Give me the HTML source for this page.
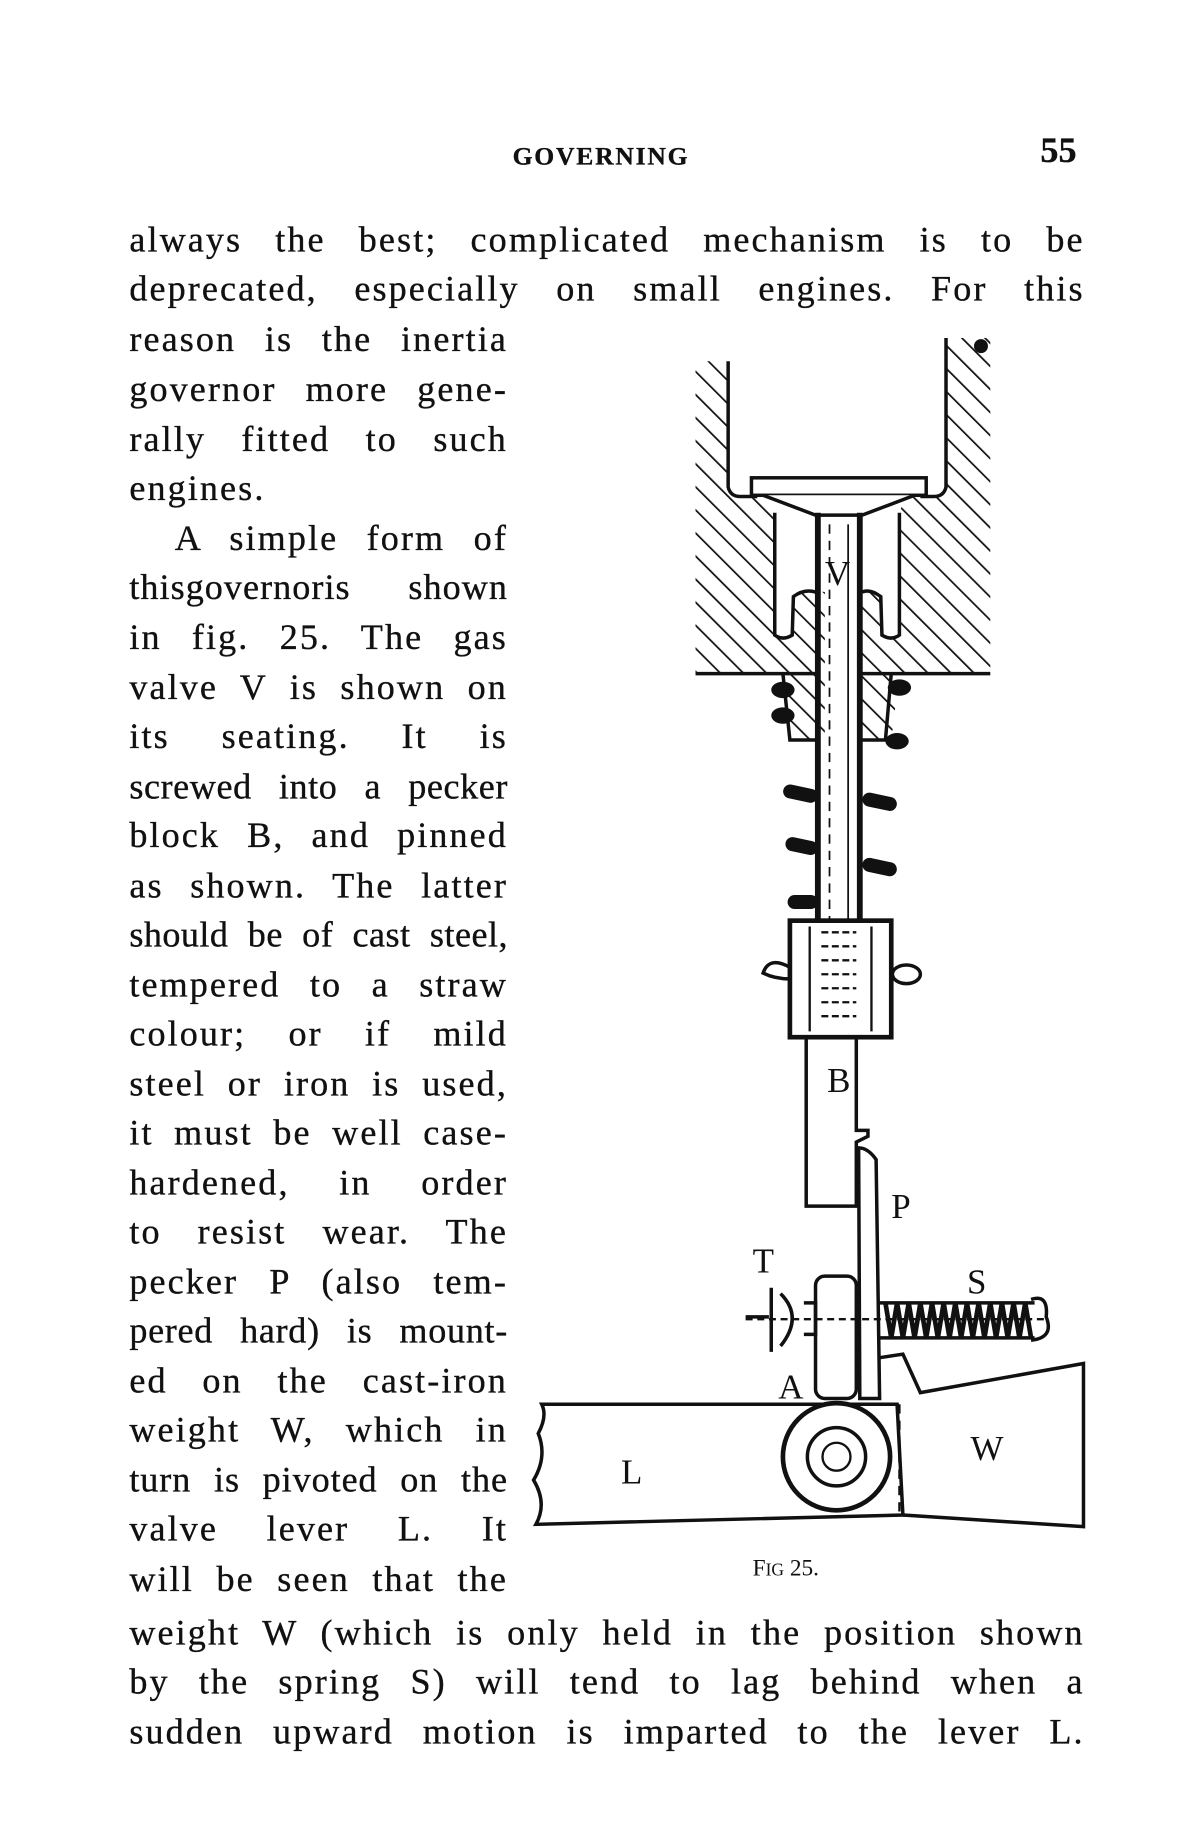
<!DOCTYPE html>
<html><head><meta charset="utf-8"><style>
html,body{margin:0;padding:0;background:#fff;}
#wrap{position:relative;width:1024px;height:1572px;transform:scale(1.16504,1.16539);transform-origin:0 0;overflow:hidden;}
.l{position:absolute;font-family:"Liberation Serif",serif;font-size:31px;line-height:34px;color:#111;text-align:justify;text-align-last:justify;white-space:nowrap;letter-spacing:1.8px;-webkit-text-stroke:0.3px #111;}
.c{left:111px;width:325px;}
.f{left:111px;width:820px;}
svg{position:absolute;left:0;top:0;}
</style></head><body><div id="wrap">
<div class="l" style="left:440px;top:117px;font-size:22px;font-weight:bold;letter-spacing:1.5px;text-align-last:auto">GOVERNING</div>
<div class="l" style="left:893px;top:112px;font-size:31px;font-weight:bold;text-align-last:auto;letter-spacing:0">55</div>

<div class="l f" style="top:189px">always the best; complicated mechanism is to be</div>
<div class="l f" style="top:231px">deprecated, especially on small engines. For this</div>
<div class="l c" style="top:274px">reason is the inertia</div>
<div class="l c" style="top:317px">governor more gene-</div>
<div class="l c" style="top:360px">rally fitted to such</div>
<div class="l c" style="top:402px;text-align-last:auto">engines.</div>
<div class="l c" style="top:445px;left:150px;width:286px">A simple form of</div>
<div class="l c" style="top:487px;letter-spacing:0.9px">thisgovernoris shown</div>
<div class="l c" style="top:530px">in fig. 25. The gas</div>
<div class="l c" style="top:573px">valve V is shown on</div>
<div class="l c" style="top:615px">its seating. It is</div>
<div class="l c" style="top:658px;letter-spacing:0.5px">screwed into a pecker</div>
<div class="l c" style="top:700px">block B, and pinned</div>
<div class="l c" style="top:743px">as shown. The latter</div>
<div class="l c" style="top:785px;letter-spacing:0.4px">should be of cast steel,</div>
<div class="l c" style="top:828px">tempered to a straw</div>
<div class="l c" style="top:870px">colour; or if mild</div>
<div class="l c" style="top:913px">steel or iron is used,</div>
<div class="l c" style="top:955px">it must be well case-</div>
<div class="l c" style="top:998px">hardened, in order</div>
<div class="l c" style="top:1040px">to resist wear. The</div>
<div class="l c" style="top:1083px">pecker P (also tem-</div>
<div class="l c" style="top:1125px;letter-spacing:0.6px">pered hard) is mount-</div>
<div class="l c" style="top:1168px">ed on the cast-iron</div>
<div class="l c" style="top:1210px">weight W, which in</div>
<div class="l c" style="top:1253px;letter-spacing:0.8px">turn is pivoted on the</div>
<div class="l c" style="top:1295px">valve lever L. It</div>
<div class="l c" style="top:1338px">will be seen that the</div>
<div class="l f" style="top:1384px">weight W (which is only held in the position shown</div>
<div class="l f" style="top:1426px">by the spring S) will tend to lag behind when a</div>
<div class="l f" style="top:1469px">sudden upward motion is imparted to the lever L.</div>

<svg width="1024" height="1572" viewBox="0 0 1024 1572">
<defs>
<pattern id="h" patternUnits="userSpaceOnUse" width="14" height="14" patternTransform="rotate(-45)">
<line x1="0" y1="0" x2="0" y2="14" stroke="#111" stroke-width="3"/>
</pattern>
</defs>
<g stroke="#111" stroke-width="3" fill="url(#h)">
<path d="M597,310 L625,310 L625,418 Q627,426 635,426 L660,426 L665,440 L665,545 Q672,550 680,545 L681,512 Q690,505 708,508 L708,578 L708,635 L678,635 L672,578 L597,578 Z" stroke="none"/>
<path d="M850,290 L812,290 L812,418 Q810,426 802,426 L777,426 L772,440 L772,545 Q765,550 757,545 L756,512 Q747,505 738,508 L738,578 L738,635 L765,635 L772,578 L850,578 Z" stroke="none"/>
</g>
<g stroke="#111" stroke-width="3" fill="none">
<path d="M625,310 L625,418 Q627,426 635,426 L650,426"/>
<path d="M812,290 L812,418 Q810,426 802,426 L790,426"/>
<path d="M665,440 L665,545 Q672,550 680,545 L681,512 Q690,505 700,508"/>
<path d="M772,440 L772,545 Q765,550 757,545 L756,512 Q747,505 740,508"/>
<path d="M597,578 L700,578 M740,578 L850,578"/>
<path d="M672,578 L678,635 L700,635 M765,578 L760,635 L740,635"/>
<rect x="645" y="410" width="150" height="15" fill="#fff"/>
<path d="M655,425 L700,442 L740,442 L785,425" fill="#fff"/>
<line x1="702" y1="440" x2="702" y2="790" stroke-width="5"/>
<line x1="738" y1="440" x2="738" y2="790" stroke-width="5"/>
<line x1="728" y1="450" x2="728" y2="790" stroke-width="1.5"/>
<line x1="712" y1="450" x2="712" y2="790" stroke-width="1.5" stroke-dasharray="8 6"/>
<rect x="678" y="790" width="87" height="100" fill="#fff" stroke-width="4"/>
<g stroke-width="2"><line x1="695" y1="795" x2="695" y2="885"/><line x1="748" y1="795" x2="748" y2="885"/>
<path d="M705,800 h30 M705,812 h30 M705,824 h30 M705,836 h30 M705,848 h30 M705,860 h30 M705,872 h30" stroke-dasharray="6 3"/></g>
<path d="M678,830 Q660,820 655,835 Q665,840 678,840"/>
<ellipse cx="778" cy="836" rx="12" ry="8"/>
<path d="M692,890 L692,1035 L735,1035 L735,980 L745,975 L745,970 L735,970 L735,890"/>
<path d="M737,985 Q745,985 752,995 L755,1200 L738,1200 Z" fill="#fff"/>
<rect x="700" y="1095" width="35" height="105" rx="8" fill="#fff"/>
<path d="M640,1130 L660,1130 M662,1105 L662,1160 M670,1110 Q690,1130 670,1155 M690,1118 L700,1118 L700,1145 L690,1145"/>
<line x1="640" y1="1132" x2="900" y2="1132" stroke-dasharray="6 4" stroke-width="2"/>
<path d="M755,1118 L888,1118 M755,1148 L888,1148"/>
<path d="M760,1118 l5,30 l5,-30 l5,30 l5,-30 l5,30 l5,-30 l5,30 l5,-30 l5,30 l5,-30 l5,30 l5,-30 l5,30 l5,-30 l5,30 l5,-30 l5,30 l5,-30 l5,30 l5,-30 l5,30 l5,-30 l5,30 l5,-30 l5,30" stroke-width="4"/>
<path d="M885,1115 Q900,1110 898,1130 Q905,1148 885,1150"/>
<path d="M755,1165 L775,1162 L790,1195 L930,1170 L930,1310 L775,1300"/>
<path d="M465,1205 L770,1205 L775,1300 L460,1308 Q470,1290 458,1270 Q470,1250 462,1230 Q470,1215 465,1205 Z" fill="#fff"/>
<line x1="772" y1="1205" x2="772" y2="1300" stroke-dasharray="8 6" stroke-width="2"/>
<circle cx="718" cy="1250" r="46" fill="#fff" stroke-width="4"/>
<circle cx="718" cy="1250" r="25"/>
<circle cx="718" cy="1250" r="12" stroke-width="2"/>
</g>
<g fill="#111">
<ellipse cx="672" cy="592" rx="10" ry="7"/><ellipse cx="672" cy="614" rx="10" ry="7"/>
<ellipse cx="772" cy="590" rx="10" ry="7"/><ellipse cx="770" cy="636" rx="10" ry="7"/>
<rect x="672" y="675" width="30" height="12" rx="6" transform="rotate(12 687 681)"/>
<rect x="674" y="720" width="28" height="12" rx="6" transform="rotate(12 688 726)"/>
<rect x="676" y="768" width="26" height="12" rx="6"/>
<rect x="740" y="682" width="30" height="12" rx="6" transform="rotate(12 755 688)"/>
<rect x="740" y="738" width="30" height="12" rx="6" transform="rotate(12 755 744)"/>
<ellipse cx="842" cy="297" rx="6" ry="6"/>
</g>
<g font-family="Liberation Serif, serif" font-size="30" fill="#111">
<text x="708" y="502">V</text>
<text x="710" y="937">B</text>
<text x="765" y="1045">P</text>
<text x="646" y="1092">T</text>
<text x="830" y="1110">S</text>
<text x="668" y="1200">A</text>
<text x="533" y="1273">L</text>
<text x="833" y="1253">W</text>
<text x="646" y="1352" font-size="20">F<tspan font-size="15">IG</tspan> 25.</text>
</g>
</svg>
</div></body></html>
